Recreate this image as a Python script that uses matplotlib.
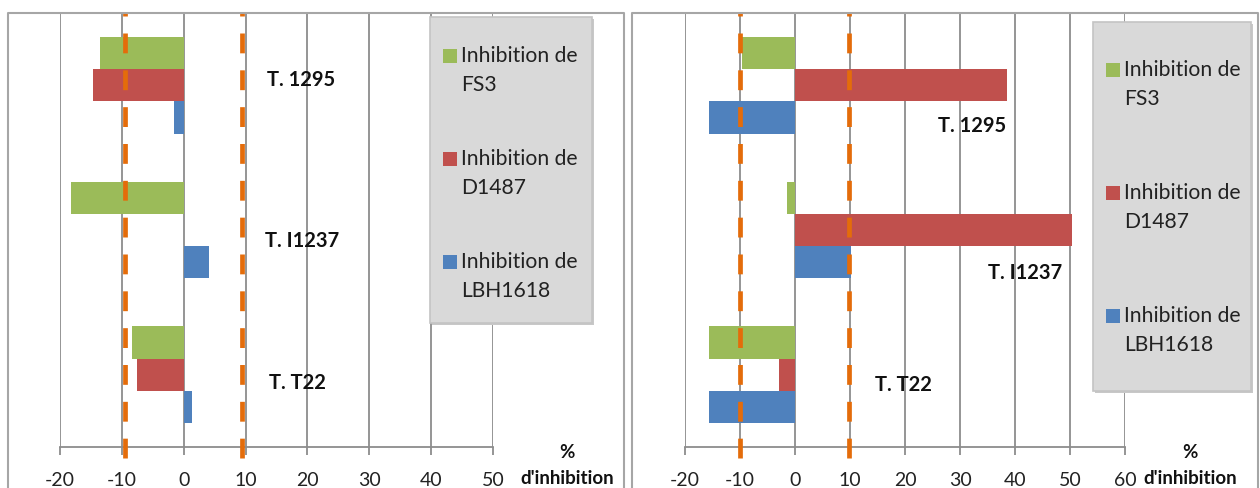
import matplotlib
matplotlib.use('Agg')
import matplotlib.pyplot as plt
from matplotlib.patches import Rectangle
from matplotlib.lines import Line2D

plt.rcParams['font.family'] = ['Lato', 'DejaVu Sans']

categories = ['T. 1295', 'T. I1237', 'T. T22']
series_names = ['Inhibition de\nFS3', 'Inhibition de\nD1487', 'Inhibition de\nLBH1618']

# left chart
left_fs3 = [-13.5, -18.3, -8.4]
left_d1487 = [-14.6, 0, -7.6]
left_lbh1618 = [-1.5, 4.1, 1.3]
left_thresholds = [-9.47, 9.47]
left_ticks = [-20, -10, 0, 10, 20, 30, 40, 50]

# right chart
right_fs3 = [-9.6, -1.4, -15.6]
right_d1487 = [38.5, 50.3, -2.9]
right_lbh1618 = [-15.6, 10.2, -15.6]
right_thresholds = [-10.0, 9.8]
right_ticks = [-20, -10, 0, 10, 20, 30, 40, 50, 60]

colors = ['#9BBB59', '#C0504D', '#4F81BD']
orange = '#E46C0A'
grid_c = '#8c8c8c'

W, H = 1260, 488
fig = plt.figure(figsize=(W / 100, H / 100), dpi=100)


def fx(px):
    return px / W


def fy(py):
    return 1 - py / H


def panel(x0, x1, ticks, series, thresholds, lab_pos, frame, legend_box, legend_rows, ytitle):
    ax = fig.add_axes([fx(x0), fy(447), fx(x1 - x0), (447 - 13) / H])
    h = 0.222
    y = list(range(len(categories)))
    for k, vals in enumerate(series):
        ax.barh([v + (k - 1) * h for v in y], vals, height=h, color=colors[k], zorder=3)
    ax.set_xlim(ticks[0], ticks[-1])
    ax.set_ylim(2.5, -0.5)
    ax.set_xticks(ticks)
    ax.set_xticklabels([str(t) for t in ticks], fontsize=14, color='#222222')
    ax.set_yticks([])
    for t in ticks:
        ax.axvline(t, color=grid_c, lw=1.3, zorder=1)
    for s in ['left', 'right', 'top']:
        ax.spines[s].set_visible(False)
    ax.spines['bottom'].set_color(grid_c)
    ax.spines['bottom'].set_linewidth(1.3)
    ax.tick_params(axis='x', direction='out', length=6, width=1.3, color=grid_c, pad=12)
    for t in thresholds:
        ax.axvline(t, ymin=-0.025, ymax=1, color=orange, lw=3.4, dashes=(4.2, 3.6),
                   clip_on=False, zorder=4)
    for name, (lx, ly) in zip(categories, lab_pos):
        ax.text(lx, ly, name, ha='center', va='center', fontsize=14.5,
                fontweight='bold', color='#111111', zorder=5)
    # outer chart frame
    fl, fr = frame
    fig.add_artist(Line2D([fx(fl), fx(fl), fx(fr), fx(fr)], [fy(H + 5), fy(13), fy(13), fy(H + 5)],
                          color='#a6a6a6', lw=1.5, transform=fig.transFigure))
    # legend
    bl, bt, br, bb = legend_box
    fig.add_artist(Rectangle((fx(bl + 2), fy(bb + 2)), fx(br - bl), (bb - bt) / H,
                             transform=fig.transFigure, facecolor='#c8c8c8', edgecolor='none'))
    fig.add_artist(Rectangle((fx(bl), fy(bb)), fx(br - bl), (bb - bt) / H,
                             transform=fig.transFigure, facecolor='#d9d9d9', edgecolor='#c4c4c4', lw=1.2))
    for k, (name, ry) in enumerate(zip(series_names, legend_rows)):
        fig.add_artist(Rectangle((fx(bl + 13), fy(ry + 7)), fx(14), 14 / H,
                                 transform=fig.transFigure, facecolor=colors[k], edgecolor='none'))
        fig.text(fx(bl + 31), fy(ry - 10), name, ha='left', va='top', fontsize=15.2,
                 color='#222222', linespacing=1.55)
    tx = ytitle
    fig.text(fx(tx), fy(453), '%', ha='center', va='center', fontsize=13.5, fontweight='bold', color='#111111')
    fig.text(fx(tx), fy(478), "d'inhibition", ha='center', va='center', fontsize=13.5,
             fontweight='bold', color='#111111')
    return ax


panel(60, 493, left_ticks, [left_fs3, left_d1487, left_lbh1618], left_thresholds,
      [(19.0, -0.04), (19.2, 1.075), (18.4, 2.06)], (8, 624), (430, 17, 592, 323),
      [56, 159, 262], 567)
panel(685, 1125, right_ticks, [right_fs3, right_d1487, right_lbh1618], right_thresholds,
      [(32.2, 0.28), (41.8, 1.30), (19.8, 2.07)], (632, 1258), (1093, 22, 1251, 391),
      [70, 193, 316], 1190)

fig.savefig('out.png', dpi=100)
